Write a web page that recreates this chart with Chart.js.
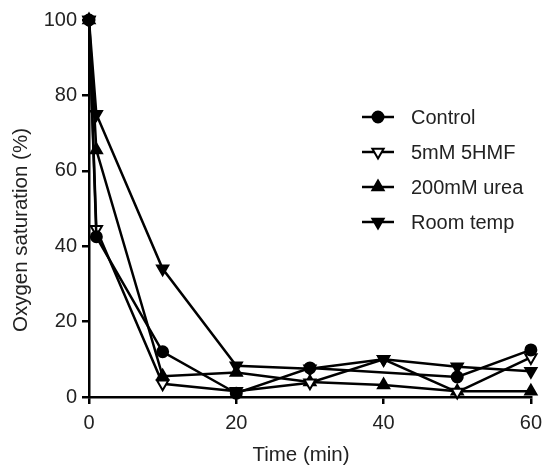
<!DOCTYPE html>
<html>
<head>
<meta charset="utf-8">
<script src="https://cdn.jsdelivr.net/npm/chart.js@4.4.1/dist/chart.umd.min.js"></script>
<style>
  html, body { margin: 0; padding: 0; background: #fff; }
  canvas { display: block; }
</style>
</head>
<body>
<canvas id="o2Chart" width="549" height="466"></canvas>
<script>
// Temps de mesure (min) et saturation en oxygène (%) par condition
const times = [0, 1, 10, 20, 30, 40, 50, 60];
const control = [100, 42.5, 12, 1, 7.7, null, 5.3, 12.5];
const hmf = [100, 44.5, 3.5, 1.5, 3.8, 10, 1.3, 10.5];
const urea = [100, 65.5, 5.5, 6.5, 4, 3.2, 1.5, 1.5];
const roomTemp = [100, 75, 34, 8.3, 7.5, 10, 8, 6.8];
const seriesNames = ['Control', '5mM 5HMF', '200mM urea', 'Room temp'];
const xTicks = [0, 20, 40, 60];
const yTicks = [0, 20, 40, 60, 80, 100];
const xTitle = 'Time (min)';
const yTitle = 'Oxygen saturation (%)';

const FONT = "'Liberation Sans', Arial, sans-serif";
Chart.defaults.font.family = FONT;
Chart.defaults.color = '#222';

function toPoints(values) {
    return times.map((t, i) => ({ x: t, y: values[i] }));
}

function makeSet(label, values, style, rotation, fill, radius, order) {
    return {
        label: label,
        data: toPoints(values),
        order: order,
        borderColor: '#000',
        borderWidth: 2.5,
        pointStyle: style,
        rotation: rotation,
        pointRadius: radius,
        pointBackgroundColor: fill,
        pointBorderColor: '#000',
        pointBorderWidth: 2,
        spanGaps: true,
        clip: false,
        tension: 0
    };
}

// Légende et titres d'axes dessinés à la main, comme dans la figure
const extras = {
    id: 'extras',
    afterDraw(chart) {
        const ctx = chart.ctx;
        ctx.save();
        chart.data.datasets.forEach((ds, i) => {
            const y = 117 + i * 35;
            ctx.strokeStyle = '#000';
            ctx.lineWidth = 2.5;
            ctx.beginPath();
            ctx.moveTo(362, y);
            ctx.lineTo(394, y);
            ctx.stroke();
            ctx.fillStyle = ds.pointBackgroundColor;
            ctx.strokeStyle = '#000';
            ctx.lineWidth = 2;
            Chart.helpers.drawPoint(ctx, {
                pointStyle: ds.pointStyle,
                rotation: ds.rotation,
                radius: ds.pointRadius,
                borderWidth: 2
            }, 378, y);
            ctx.fillStyle = '#222';
            ctx.font = '20px ' + FONT;
            ctx.textAlign = 'left';
            ctx.textBaseline = 'middle';
            ctx.fillText(seriesNames[i], 411, y + 1);
        });

        ctx.fillStyle = '#222';
        ctx.font = '20.5px ' + FONT;
        ctx.textAlign = 'center';
        ctx.textBaseline = 'middle';
        ctx.fillText(xTitle, 301, 455);
        ctx.translate(21, 230);
        ctx.rotate(-Math.PI / 2);
        ctx.fillText(yTitle, 0, 0);
        ctx.restore();
    }
};

const axisGrid = {
    drawOnChartArea: false,
    drawTicks: true,
    tickLength: 7,
    color: '#000',
    lineWidth: 2.5
};

const ctx = document.getElementById('o2Chart').getContext('2d');
const o2Chart = new Chart(ctx, {
    type: 'line',
    data: {
        datasets: [
            makeSet(seriesNames[0], control, 'circle', 0, '#000', 5.5, 0),
            makeSet(seriesNames[1], hmf, 'triangle', 180, '#fff', 6.5, 2),
            makeSet(seriesNames[2], urea, 'triangle', 0, '#000', 6.5, 3),
            makeSet(seriesNames[3], roomTemp, 'triangle', 180, '#000', 6.5, 1)
        ]
    },
    options: {
        responsive: false,
        animation: false,
        layout: { padding: { top: 20, right: 12, left: 0, bottom: 0 } },
        plugins: { legend: { display: false }, tooltip: { enabled: false } },
        scales: {
            x: {
                type: 'linear',
                min: 0,
                max: 60,
                afterBuildTicks: s => { s.ticks = xTicks.map(v => ({ value: v })); },
                afterFit: s => { s.height = 69; },
                ticks: { font: { size: 20 }, color: '#222', padding: 7, maxRotation: 0 },
                grid: axisGrid,
                border: { color: '#000', width: 2.5 },
                title: { display: false }
            },
            y: {
                min: 0,
                max: 100,
                afterBuildTicks: s => { s.ticks = yTicks.map(v => ({ value: v })); },
                afterFit: s => { s.width = 89; },
                ticks: { font: { size: 20 }, color: '#222', padding: 5 },
                grid: axisGrid,
                border: { color: '#000', width: 2.5 },
                title: { display: false }
            }
        }
    },
    plugins: [extras]
});
</script>
</body>
</html>
